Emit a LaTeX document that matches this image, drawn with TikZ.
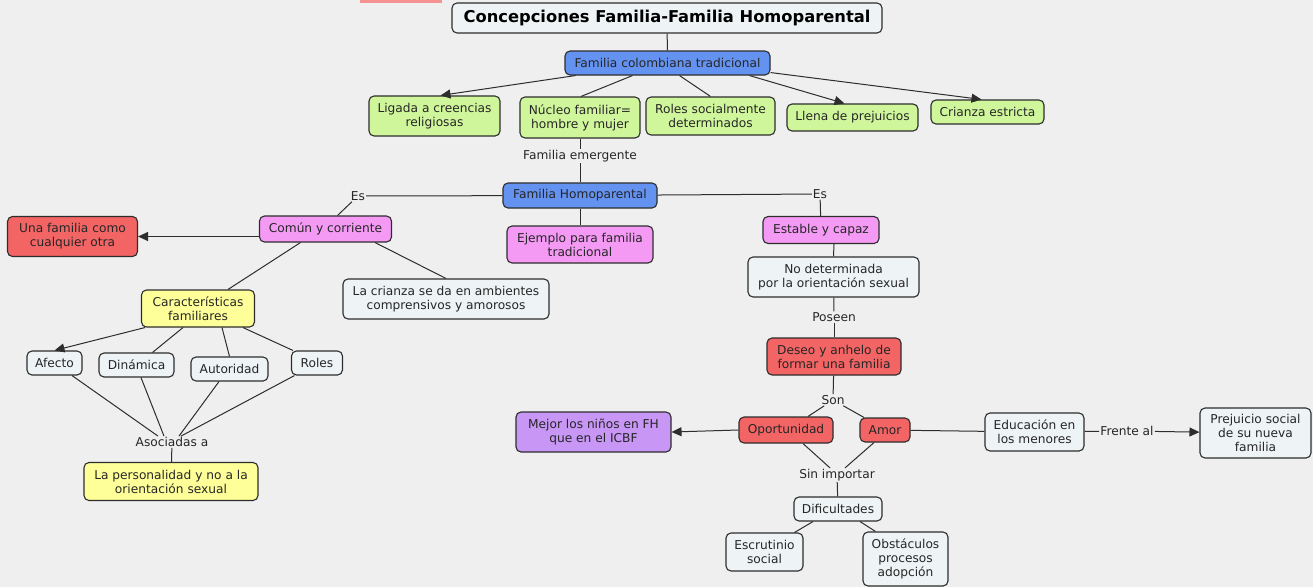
\documentclass[tikz,border=0pt]{standalone}
\usepackage{fontspec}
\setmainfont{DejaVu Sans}
\usetikzlibrary{arrows.meta}
\definecolor{fondo}{RGB}{239,239,239}
\definecolor{azul}{RGB}{100,146,240}
\definecolor{verde}{RGB}{208,246,156}
\definecolor{rosa}{RGB}{244,154,244}
\definecolor{rojo}{RGB}{243,100,100}
\definecolor{amarillo}{RGB}{255,255,153}
\definecolor{lila}{RGB}{200,150,245}
\definecolor{claro}{RGB}{238,243,245}
\definecolor{linea}{RGB}{45,45,45}
\newcommand\fs{\fontsize{12.2}{14}\selectfont}
\begin{document}
\begin{tikzpicture}[x=1pt,y=-1pt,
    caja/.style={draw=linea, line width=1.1pt, rounded corners=5pt, inner sep=0pt,
                 align=center, font=\fs, text=black!85},
    azulbox/.style={caja, fill=azul},
    verdebox/.style={caja, fill=verde},
    rosabox/.style={caja, fill=rosa},
    rojobox/.style={caja, fill=rojo},
    amarillobox/.style={caja, fill=amarillo},
    lilabox/.style={caja, fill=lila},
    clarobox/.style={caja, fill=claro},
    etiq/.style={font=\fs, inner sep=1pt, text=black!85},
    rel/.style={draw=linea, line width=1pt},
    flecha/.style={rel, -{Triangle[length=10pt,width=9pt]}}]

    % Fondo
    \fill[fondo] (0,0) rectangle (1313,587);
    \useasboundingbox (0,0) rectangle (1313,587);
    \fill[rojo!70] (360,0) rectangle (442,3);

    % Titulo
    \node[clarobox, minimum width=430, minimum height=30,
          font=\fontsize{16.3}{19}\selectfont\bfseries, text=black] (titulo) at (667,18)
        {Concepciones Familia-Familia Homoparental};

    % Familia colombiana tradicional
    \node[azulbox, minimum width=205, minimum height=24] (fct) at (667.5,63) {Familia colombiana tradicional};
    \node[verdebox, minimum width=131, minimum height=40] (ligada) at (434.5,116) {Ligada a creencias\\religiosas};
    \node[verdebox, minimum width=120, minimum height=41] (nucleo) at (580,117.5) {Núcleo familiar=\\hombre y mujer};
    \node[verdebox, minimum width=129, minimum height=38] (roles) at (710.5,116) {Roles socialmente\\determinados};
    \node[verdebox, minimum width=131, minimum height=27] (llena) at (852.5,117.5) {Llena de prejuicios};
    \node[verdebox, minimum width=113, minimum height=24] (crianza) at (987.5,112) {Crianza estricta};

    % Familia Homoparental
    \node[etiq] (emergente) at (580,156) {Familia emergente};
    \node[azulbox, minimum width=154, minimum height=25] (fh) at (580,195.5) {Familia Homoparental};
    \node[etiq] (esizq) at (358,196) {Es};
    \node[etiq] (esder) at (820,194) {Es};
    \node[rosabox, minimum width=146, minimum height=37] (ejemplo) at (580,244.5) {Ejemplo para familia\\tradicional};

    % Rama izquierda
    \node[rosabox, minimum width=132, minimum height=26] (comun) at (325.5,229) {Común y corriente};
    \node[rojobox, minimum width=130, minimum height=40] (otra) at (72.5,236.5) {Una familia como\\cualquier otra};
    \node[amarillobox, minimum width=113, minimum height=37] (caract) at (198,308.5) {Características\\familiares};
    \node[clarobox, minimum width=206, minimum height=40] (ambientes) at (446,299) {La crianza se da en ambientes\\comprensivos y amorosos};
    \node[clarobox, minimum width=55, minimum height=24] (afecto) at (54.5,363) {Afecto};
    \node[clarobox, minimum width=75, minimum height=24] (dinamica) at (136.5,365) {Dinámica};
    \node[clarobox, minimum width=77, minimum height=24] (autoridad) at (229.5,369) {Autoridad};
    \node[clarobox, minimum width=51, minimum height=24] (rolesfam) at (317,363) {Roles};
    \node[etiq] (asociadas) at (172,442) {Asociadas a};
    \node[amarillobox, minimum width=174, minimum height=38] (personalidad) at (171,481.5) {La personalidad y no a la\\orientación sexual};

    % Rama derecha
    \node[rosabox, minimum width=116, minimum height=27] (estable) at (821,230) {Estable y capaz};
    \node[clarobox, minimum width=171, minimum height=40] (nodet) at (833.5,277) {No determinada\\por la orientación sexual};
    \node[etiq] (poseen) at (834,317) {Poseen};
    \node[rojobox, minimum width=134, minimum height=37] (deseo) at (834,356.5) {Deseo y anhelo de\\formar una familia};
    \node[etiq] (son) at (833,400) {Son};
    \node[rojobox, minimum width=94, minimum height=26] (oportunidad) at (786,430) {Oportunidad};
    \node[rojobox, minimum width=50, minimum height=24] (amor) at (885,430) {Amor};
    \node[lilabox, minimum width=155, minimum height=40] (mejor) at (593.5,432) {Mejor los niños en FH\\que en el ICBF};
    \node[clarobox, minimum width=99, minimum height=38] (educacion) at (1034.5,432) {Educación en\\los menores};
    \node[etiq] (frente) at (1127,431) {Frente al};
    \node[clarobox, minimum width=111, minimum height=50] (prejuicio) at (1255.5,433) {Prejuicio social\\de su nueva\\familia};
    \node[etiq] (sinimportar) at (837,475) {Sin importar};
    \node[clarobox, minimum width=88, minimum height=24] (dificultades) at (838,509) {Dificultades};
    \node[clarobox, minimum width=77, minimum height=38] (escrutinio) at (764.5,552) {Escrutinio\\social};
    \node[clarobox, minimum width=85, minimum height=54] (obstaculos) at (905.5,559) {Obstáculos\\procesos\\adopción};

    % Conexiones superiores
    \draw[rel] (titulo) -- (fct);
    \draw[flecha] ([xshift=-92pt]fct.south) -- ([xshift=6pt]ligada.north);
    \draw[rel] ([xshift=-35pt]fct.south) -- ([xshift=1pt]nucleo.north);
    \draw[rel] ([xshift=12pt]fct.south) -- (roles.north);
    \draw[flecha] ([xshift=82pt]fct.south) -- ([xshift=-8pt]llena.north);
    \draw[flecha] ([yshift=3pt]fct.south east) -- ([xshift=-6pt]crianza.north);
    \draw[rel] (nucleo) -- (emergente);
    \draw[rel] (emergente) -- (fh);

    % Conexiones Familia Homoparental
    \draw[rel] (fh) -- (esizq);
    \draw[rel] (esizq) -- ([xshift=12pt]comun.north);
    \draw[rel] (fh) -- (esder);
    \draw[rel] (esder) -- (estable);
    \draw[rel] (fh) -- (ejemplo);

    % Izquierda
    \draw[flecha] ([yshift=-7.5pt]comun.west) -- (otra.east);
    \draw[rel] ([xshift=-25pt]comun.south) -- ([xshift=30pt]caract.north);
    \draw[rel] ([xshift=49.5pt]comun.south) -- (ambientes.north);
    \draw[flecha] ([xshift=-53pt]caract.south) -- (afecto.north);
    \draw[rel] ([xshift=-15pt]caract.south) -- ([xshift=16pt]dinamica.north);
    \draw[rel] ([xshift=24pt]caract.south) -- (autoridad.north);
    \draw[rel] ([xshift=45pt]caract.south) -- ([xshift=2pt]rolesfam.north west);
    \draw[rel] ([xshift=17.5pt]afecto.south) -- ([xshift=-14pt]asociadas.north);
    \draw[rel] ([xshift=4.5pt]dinamica.south) -- ([xshift=-8pt]asociadas.north);
    \draw[rel] ([xshift=-10.5pt]autoridad.south) -- ([xshift=7pt]asociadas.north);
    \draw[rel] ([xshift=3.5pt]rolesfam.south west) -- ([xshift=9pt]asociadas.north);
    \draw[rel] (asociadas) -- (personalidad);

    % Derecha
    \draw[rel] ([xshift=13pt]estable.south) -- (nodet.north);
    \draw[rel] (nodet) -- (poseen);
    \draw[rel] (poseen) -- (deseo);
    \draw[rel] (deseo) -- (son);
    \draw[rel] (son) -- ([xshift=22pt]oportunidad.north);
    \draw[rel] (son) -- ([xshift=-21pt]amor.north);
    \draw[flecha] (oportunidad.west) -- (mejor.east);
    \draw[rel] (amor) -- (educacion);
    \draw[rel] (educacion) -- (frente);
    \draw[flecha] (frente) -- (prejuicio);
    \draw[rel] ([xshift=17pt]oportunidad.south) -- ([xshift=-7pt]sinimportar.north);
    \draw[rel] ([xshift=-11pt]amor.south) -- ([xshift=8pt]sinimportar.north);
    \draw[rel] (sinimportar) -- (dificultades);
    \draw[rel] ([xshift=-25pt]dificultades.south) -- ([xshift=30pt]escrutinio.north);
    \draw[rel] ([xshift=22pt]dificultades.south) -- ([xshift=-30pt]obstaculos.north);

\end{tikzpicture}
\end{document}
